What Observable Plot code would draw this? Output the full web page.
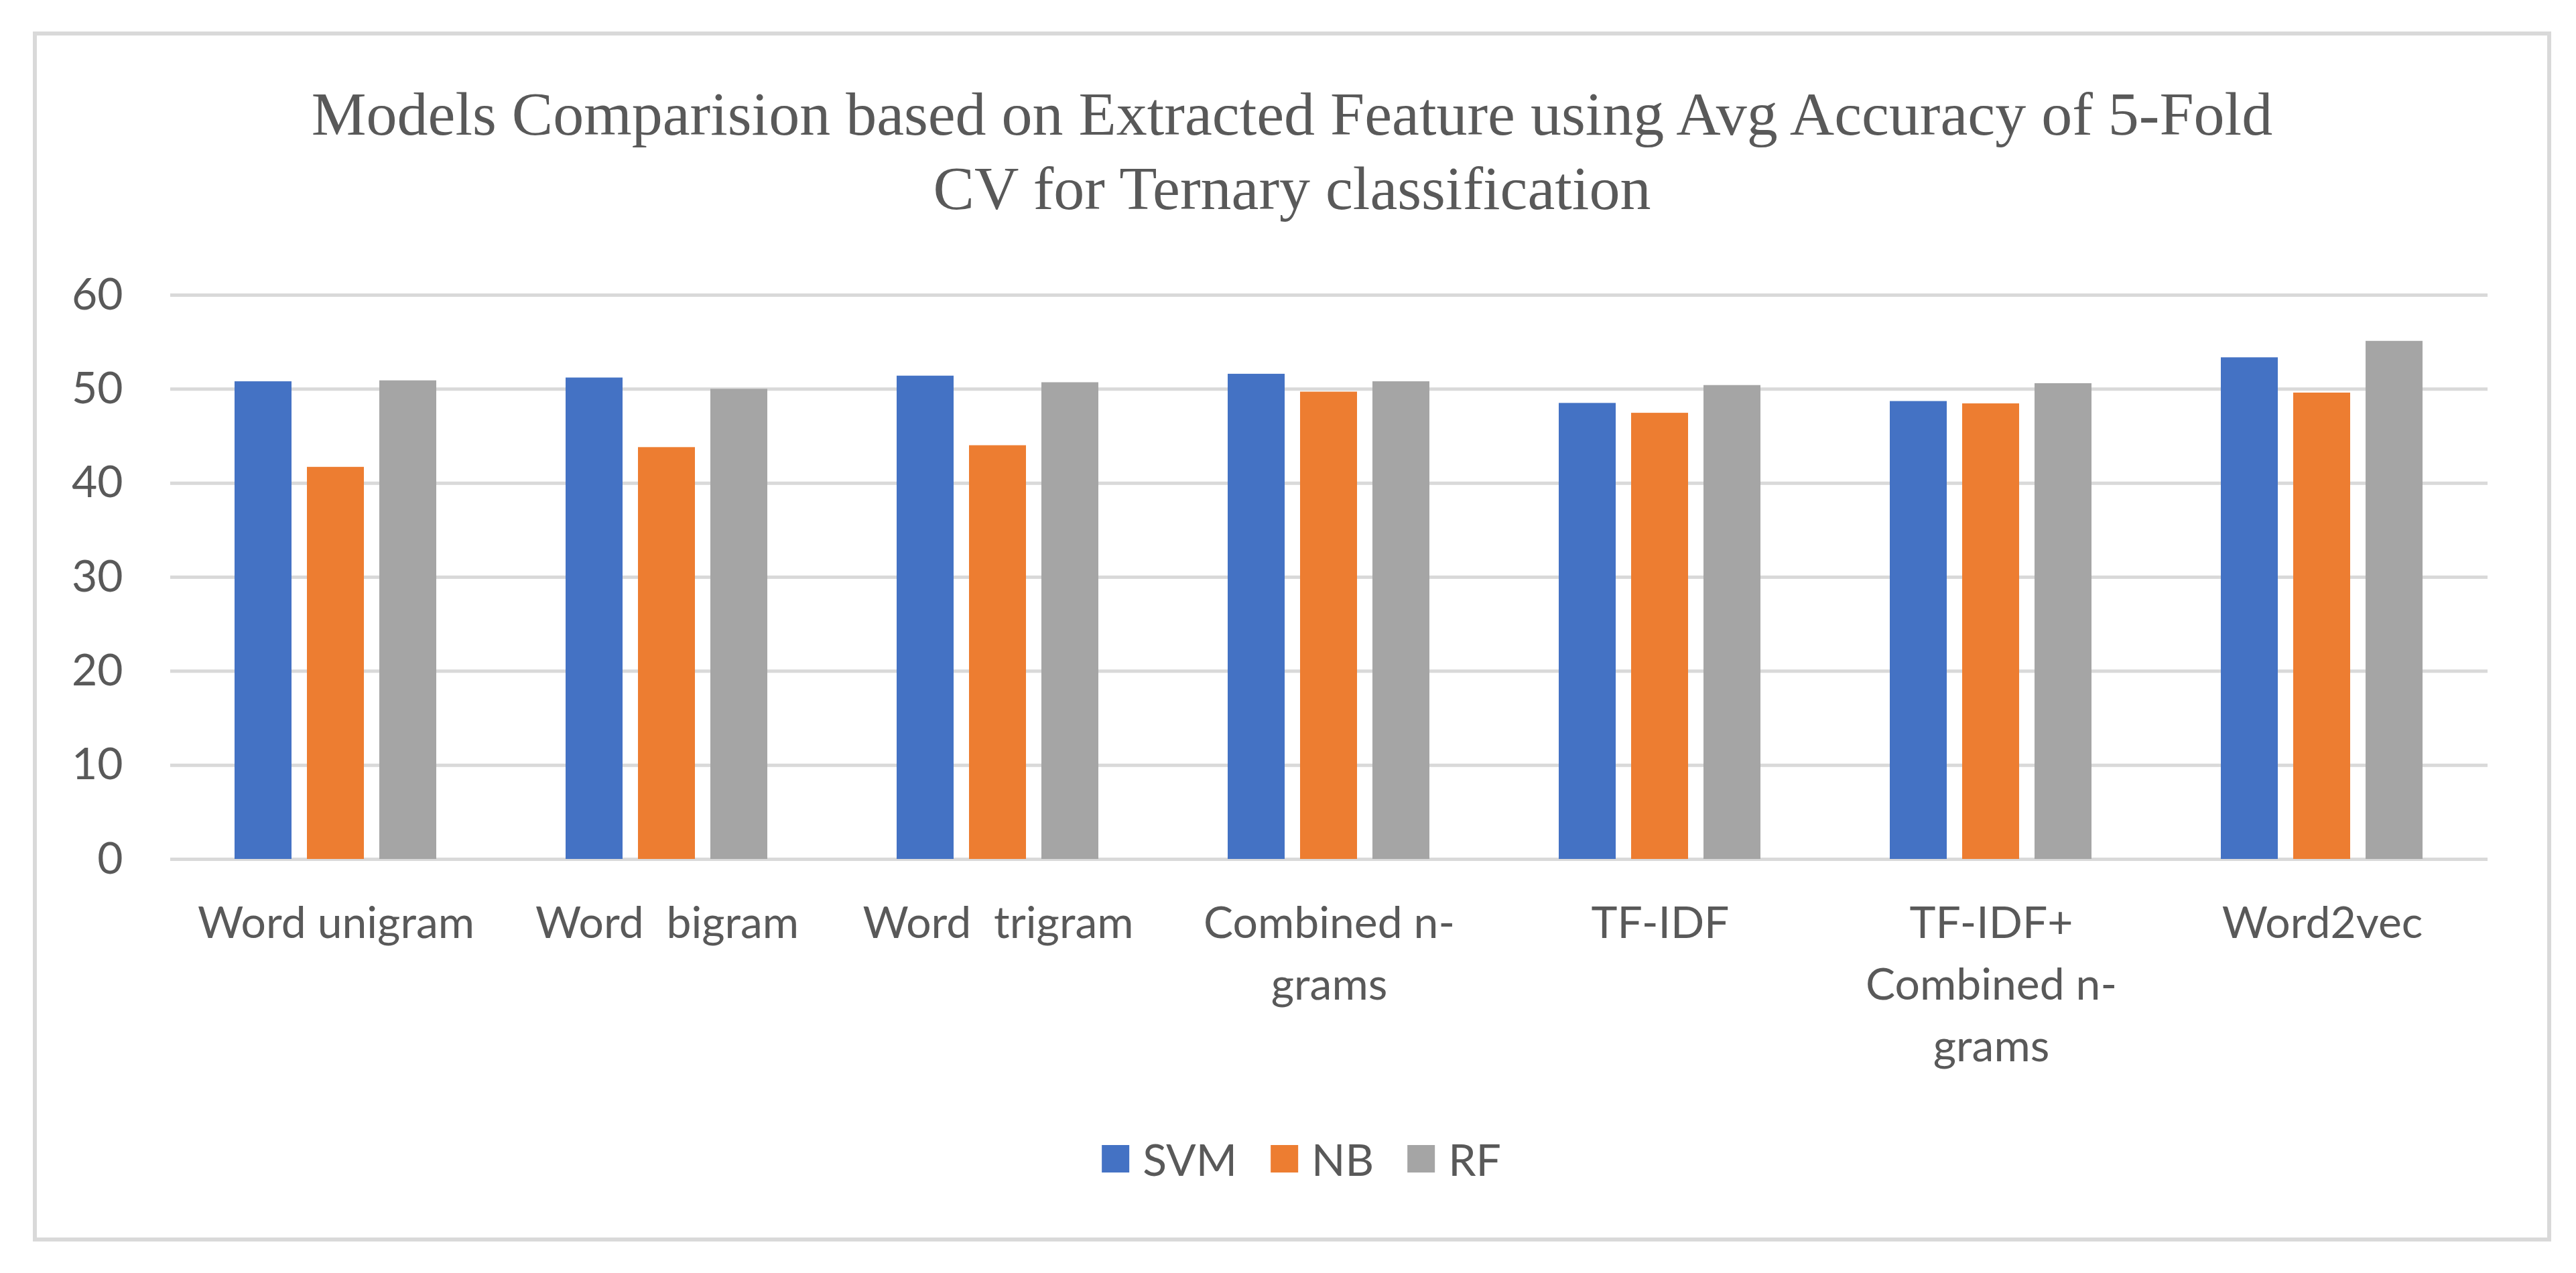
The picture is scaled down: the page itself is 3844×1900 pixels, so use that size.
<!DOCTYPE html>
<html>
<head>
<meta charset="utf-8">
<script src="https://cdn.jsdelivr.net/npm/d3@7"></script>
<script src="https://cdn.jsdelivr.net/npm/@observablehq/plot@0.6"></script>
<style>
  html, body { margin: 0; padding: 0; background: #fff; }
  #page { position: relative; width: 3844px; height: 1900px; overflow: hidden; background: #fff; }
  #frame { position: absolute; left: 49px; top: 47px; width: 3758px; height: 1806px; box-sizing: border-box; border: 6px solid #d9d9d9; }
  #title { position: absolute; left: 49px; width: 3758px; top: 115px; text-align: center;
           font-family: "Liberation Serif", serif; font-size: 92px; line-height: 111px; color: #595959; }
  #chart { position: absolute; left: 0; top: 380px; }
  #chart svg text { white-space: pre; }
  #legend { position: absolute; top: 1690px; left: 1942px; transform: translateX(-50%);
            display: flex; align-items: center; gap: 50px; font-family: Lato, sans-serif; font-size: 66px; color: #595959; white-space: nowrap; }
  .item { display: flex; align-items: center; gap: 20px; }
  .sw { width: 41px; height: 41px; display: inline-block; }
</style>
</head>
<body>
<div id="page">
  <div id="frame"></div>
  <div id="title"></div>
  <div id="chart"></div>
  <div id="legend"></div>
</div>
<script>
const titleLines = ["Models Comparision based on Extracted Feature using Avg Accuracy of 5-Fold", "CV for Ternary classification"];
const categories = ["Word unigram", "Word bigram", "Word trigram", "Combined n-grams", "TF-IDF", "TF-IDF+ Combined n-grams", "Word2vec"];
const categoryLabels = ["Word unigram", "Word  bigram", "Word  trigram", "Combined n-\ngrams", "TF-IDF", "TF-IDF+\nCombined n-\ngrams", "Word2vec"];
const models = ["SVM", "NB", "RF"];
const colors = ["#4472c4", "#ed7d31", "#a5a5a5"];
const svm = [50.8, 51.2, 51.4, 51.6, 48.5, 48.7, 53.35];
const nb  = [41.7, 43.8, 44.0, 49.7, 47.45, 48.45, 49.6];
const rf  = [50.9, 50.0, 50.7, 50.8, 50.4, 50.6, 55.1];
const yTicks = [0, 10, 20, 30, 40, 50, 60];

const series = {SVM: svm, NB: nb, RF: rf};
const data = [];
categories.forEach((c, i) => models.forEach(m => data.push({category: c, model: m, value: series[m][i]})));
const labelOf = new Map(categories.map((c, i) => [c, categoryLabels[i]]));

document.getElementById("title").innerHTML = titleLines.map(t => `<div>${t}</div>`).join("");

const chart = Plot.plot({
  width: 3844,
  height: 1250,
  marginLeft: 252,
  marginRight: 130,
  marginTop: 60,
  marginBottom: 348,
  style: {fontFamily: "Lato, sans-serif", fontSize: "66px", color: "#595959", background: "transparent"},
  fx: {domain: categories, padding: 0, label: null},
  x: {domain: models, paddingInner: 0.211, paddingOuter: 0.874, axis: null, label: null},
  y: {domain: [0, 60], label: null},
  color: {domain: models, range: colors},
  marks: [
    Plot.gridY(yTicks, {stroke: "#d9d9d9", strokeWidth: 5, strokeOpacity: 1}),
    Plot.barY(data, {fx: "category", x: "model", y: "value", fill: "model"}),
    Plot.axisY(yTicks, {tickSize: 0, tickPadding: 71, fontSize: 66, label: null}),
    Plot.axisFx({anchor: "bottom", tickSize: 0, tickPadding: 52, fontSize: 66, lineHeight: 92 / 66, label: null, tickFormat: d => labelOf.get(d)})
  ]
});
document.getElementById("chart").appendChild(chart);

document.getElementById("legend").innerHTML = models.map((m, i) =>
  `<span class="item"><span class="sw" style="background:${colors[i]}"></span><span>${m}</span></span>`).join("");
</script>
</body>
</html>
